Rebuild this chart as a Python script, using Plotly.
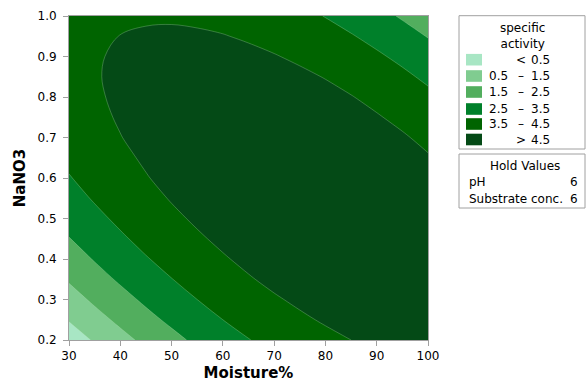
import plotly.graph_objects as go

# ---- data ----
moisture = [30, 35, 40, 45, 50, 55, 60, 65, 70, 75, 80, 85, 90, 95, 100]
nano3 = [0.20, 0.25, 0.30, 0.35, 0.40, 0.45, 0.50, 0.55, 0.60, 0.65, 0.70, 0.75, 0.80, 0.85, 0.90, 0.95, 1.00]
# specific activity, one row per NaNO3 value (columns follow moisture)
activity = [
    [-0.03, 0.60, 1.19, 1.73, 2.23, 2.69, 3.10, 3.47, 3.79, 4.07, 4.31, 4.50, 4.65, 4.75, 4.81],
    [0.56, 1.16, 1.71, 2.23, 2.69, 3.12, 3.50, 3.83, 4.13, 4.38, 4.58, 4.74, 4.86, 4.93, 4.96],
    [1.10, 1.67, 2.19, 2.67, 3.11, 3.50, 3.85, 4.16, 4.42, 4.63, 4.81, 4.94, 5.02, 5.06, 5.06],
    [1.60, 2.14, 2.63, 3.08, 3.48, 3.85, 4.16, 4.44, 4.67, 4.85, 4.99, 5.09, 5.14, 5.15, 5.12],
    [2.06, 2.56, 3.02, 3.44, 3.81, 4.14, 4.43, 4.67, 4.87, 5.02, 5.13, 5.20, 5.22, 5.20, 5.13],
    [2.47, 2.94, 3.37, 3.76, 4.10, 4.40, 4.65, 4.86, 5.03, 5.15, 5.23, 5.27, 5.26, 5.20, 5.11],
    [2.84, 3.28, 3.68, 4.04, 4.35, 4.61, 4.84, 5.01, 5.15, 5.24, 5.29, 5.29, 5.25, 5.16, 5.03],
    [3.17, 3.58, 3.95, 4.27, 4.55, 4.78, 4.97, 5.12, 5.22, 5.28, 5.30, 5.27, 5.20, 5.08, 4.92],
    [3.45, 3.83, 4.17, 4.46, 4.71, 4.91, 5.07, 5.18, 5.26, 5.28, 5.27, 5.21, 5.10, 4.96, 4.76],
    [3.69, 4.04, 4.34, 4.60, 4.82, 4.99, 5.12, 5.21, 5.25, 5.24, 5.19, 5.10, 4.97, 4.79, 4.56],
    [3.89, 4.21, 4.48, 4.71, 4.89, 5.03, 5.13, 5.18, 5.19, 5.16, 5.08, 4.95, 4.79, 4.58, 4.32],
    [4.05, 4.33, 4.57, 4.77, 4.92, 5.03, 5.10, 5.12, 5.09, 5.03, 4.92, 4.76, 4.56, 4.32, 4.03],
    [4.16, 4.41, 4.62, 4.79, 4.91, 4.99, 5.02, 5.01, 4.95, 4.86, 4.71, 4.53, 4.30, 4.02, 3.70],
    [4.23, 4.45, 4.63, 4.76, 4.85, 4.90, 4.90, 4.86, 4.77, 4.64, 4.47, 4.25, 3.99, 3.68, 3.33],
    [4.25, 4.44, 4.59, 4.69, 4.75, 4.76, 4.74, 4.66, 4.54, 4.38, 4.18, 3.93, 3.63, 3.30, 2.92],
    [4.24, 4.39, 4.51, 4.58, 4.61, 4.59, 4.53, 4.42, 4.27, 4.08, 3.84, 3.56, 3.24, 2.87, 2.46],
    [4.18, 4.30, 4.39, 4.42, 4.42, 4.37, 4.28, 4.14, 3.96, 3.74, 3.47, 3.16, 2.80, 2.40, 1.96],
]
levels = [0.5, 1.5, 2.5, 3.5, 4.5]
x_ticks = [30, 40, 50, 60, 70, 80, 90, 100]
y_ticks = [0.2, 0.3, 0.4, 0.5, 0.6, 0.7, 0.8, 0.9, 1.0]
hold_names = ["pH", "Substrate conc."]
hold_values = [6, 6]

# ---- styles ----
band_colors = ['#A8E6C4', '#80CC90', '#52AE5E', '#00802A', '#006400', '#044A16']
W, H = 586, 382
L, R, T, B = 69, 158, 16, 42
PW, PH = W - L - R, H - T - B
FONT = 'DejaVu Sans'
GRAY = '#a0a0a0'

def px(xp):
    return (xp - L) / PW

def py(yp):
    return (H - B - yp) / PH

step = levels[1] - levels[0]
# piecewise-constant colour scale, one block per band
cuts = [0.0, 0.17, 0.36, 0.54, 0.725, 0.908, 1.0]
cs = []
for i, c in enumerate(band_colors):
    cs.append([cuts[i], c])
    cs.append([cuts[i + 1], c])

fig = go.Figure(go.Contour(
    x=moisture, y=nano3, z=activity,
    contours=dict(start=levels[0], end=levels[-1], size=step, coloring='fill'),
    colorscale=cs, showscale=False,
    line=dict(color='rgba(200,235,200,0.45)', width=0.6),
    hoverinfo='skip'))

fig.update_layout(
    width=W, height=H, margin=dict(l=L, r=R, t=T, b=B, autoexpand=False),
    plot_bgcolor='white', paper_bgcolor='white',
    font=dict(family=FONT, size=12, color='black'), showlegend=False)
fig.update_xaxes(range=[30, 100], tickvals=x_ticks, ticks='outside', ticklen=5, tickcolor=GRAY,
                 showline=True, linecolor=GRAY, mirror=True, showgrid=False, zeroline=False,
                 title=dict(text='Moisture%', font=dict(family=FONT, size=15, weight='bold'), standoff=10))
fig.update_yaxes(range=[0.2, 1.0], tickvals=y_ticks, tickformat='.1f', ticks='outside', ticklen=5, tickcolor=GRAY,
                 showline=True, linecolor=GRAY, mirror=True, showgrid=False, zeroline=False,
                 ticklabelstandoff=4,
                 title=dict(text='NaNO3', font=dict(family=FONT, size=15, weight='bold'), standoff=8))

shapes = []
ann = []
LF = dict(family=FONT, size=12, color='black')
# legend box
shapes.append(dict(type='rect', xref='paper', yref='paper', x0=px(459), x1=px(585), y0=py(149), y1=py(15.7),
                   line=dict(color=GRAY, width=1), fillcolor='white', layer='above'))
shapes.append(dict(type='rect', xref='paper', yref='paper', x0=px(459), x1=px(585), y0=py(208), y1=py(154),
                   line=dict(color=GRAY, width=1), fillcolor='white', layer='above'))
ann.append(dict(xref='paper', yref='paper', x=px(522), y=py(35.5), text='specific<br>activity', showarrow=False,
                xanchor='center', yanchor='middle', font=LF, align='center'))
row_y = [59.7, 76, 92, 109, 124, 139.5]
for i, c in enumerate(band_colors):
    yc = row_y[i]
    shapes.append(dict(type='rect', xref='paper', yref='paper', x0=px(466), x1=px(482), y0=py(yc + 5.8), y1=py(yc - 5.8),
                       line=dict(width=0), fillcolor=c, layer='above'))
    if i == 0:
        parts = [None, '<', f'{levels[0]:.1f}']
    elif i == len(band_colors) - 1:
        parts = [None, '>', f'{levels[-1]:.1f}']
    else:
        parts = [f'{levels[i-1]:.1f}', '–', f'{levels[i]:.1f}']
    if parts[0]:
        ann.append(dict(xref='paper', yref='paper', x=px(510), y=py(yc), text=parts[0], showarrow=False,
                        xanchor='right', yanchor='middle', font=LF))
    ann.append(dict(xref='paper', yref='paper', x=px(521), y=py(yc), text=parts[1], showarrow=False,
                    xanchor='center', yanchor='middle', font=LF))
    ann.append(dict(xref='paper', yref='paper', x=px(552), y=py(yc), text=parts[2], showarrow=False,
                    xanchor='right', yanchor='middle', font=LF))
ann.append(dict(xref='paper', yref='paper', x=px(525), y=py(166), text='Hold Values', showarrow=False,
                xanchor='center', yanchor='middle', font=LF))
for i, (nm, hv) in enumerate(zip(hold_names, hold_values)):
    yc = [182, 199][i]
    ann.append(dict(xref='paper', yref='paper', x=px(467), y=py(yc), text=nm, showarrow=False,
                    xanchor='left', yanchor='middle', font=LF))
    ann.append(dict(xref='paper', yref='paper', x=px(580), y=py(yc), text=str(hv), showarrow=False,
                    xanchor='right', yanchor='middle', font=LF))
fig.update_layout(shapes=shapes, annotations=ann)
fig.write_html("out.html", config={'displayModeBar': False, 'staticPlot': True},
               post_script="document.body.style.margin='0';document.body.style.overflow='hidden';")
